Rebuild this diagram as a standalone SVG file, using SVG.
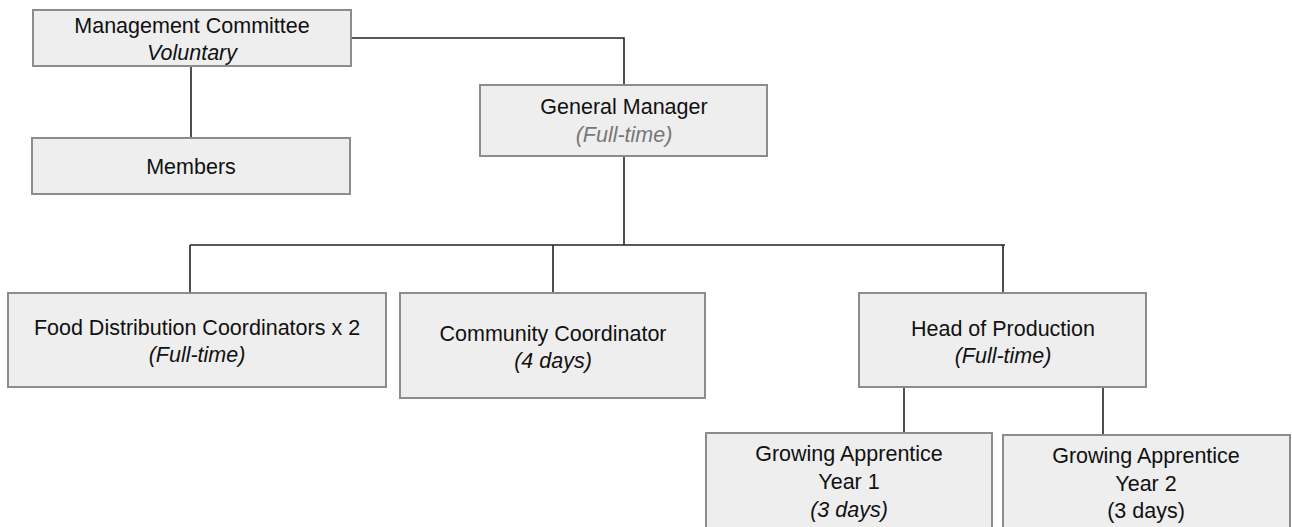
<svg xmlns="http://www.w3.org/2000/svg" width="1292" height="527" viewBox="0 0 1292 527">
<style>
.box{fill:#eeeeee;stroke:#8c8c8c;stroke-width:2}
.t{font-family:"Liberation Sans",Arial,sans-serif;font-size:21.5px;fill:#111;text-anchor:middle}
.i{font-style:italic}
.g{fill:#777}
.c{fill:none;stroke:#222;stroke-width:1.6}
</style>
<rect width="1292" height="527" fill="#fff"/>
<g id="connectors">
<polyline class="c" points="351,38 624,38 624,85"/>
<line class="c" x1="191" y1="66" x2="191" y2="138"/>
<line class="c" x1="624" y1="157" x2="624" y2="245"/>
<line class="c" x1="190" y1="245" x2="1005" y2="245"/>
<line class="c" x1="190" y1="245" x2="190" y2="293"/>
<line class="c" x1="553" y1="245" x2="553" y2="293"/>
<line class="c" x1="1003" y1="245" x2="1003" y2="293"/>
<line class="c" x1="904" y1="388" x2="904" y2="433"/>
<line class="c" x1="1103" y1="388" x2="1103" y2="435"/>
</g>
<g id="management-committee">
<rect class="box" x="33" y="10" width="318" height="56"/>
<text class="t" x="192" y="33">Management Committee</text>
<text class="t i" x="192" y="60">Voluntary</text>
</g>
<g id="members">
<rect class="box" x="32" y="138" width="318" height="56"/>
<text class="t" x="191" y="174">Members</text>
</g>
<g id="general-manager">
<rect class="box" x="480" y="85" width="287" height="71"/>
<text class="t" x="624" y="114">General Manager</text>
<text class="t i g" x="624" y="142">(Full-time)</text>
</g>
<g id="food-distribution">
<rect class="box" x="8" y="293" width="378" height="94"/>
<text class="t" x="197" y="335">Food Distribution Coordinators x 2</text>
<text class="t i" x="197" y="362">(Full-time)</text>
</g>
<g id="community-coordinator">
<rect class="box" x="400" y="293" width="305" height="105"/>
<text class="t" x="553" y="341">Community Coordinator</text>
<text class="t i" x="553" y="368">(4 days)</text>
</g>
<g id="head-of-production">
<rect class="box" x="859" y="293" width="287" height="94"/>
<text class="t" x="1003" y="336">Head of Production</text>
<text class="t i" x="1003" y="363">(Full-time)</text>
</g>
<g id="growing-apprentice-1">
<rect class="box" x="706" y="433" width="286" height="110"/>
<text class="t" x="849" y="461">Growing Apprentice</text>
<text class="t" x="849" y="489">Year 1</text>
<text class="t i" x="849" y="517">(3 days)</text>
</g>
<g id="growing-apprentice-2">
<rect class="box" x="1003" y="435" width="287" height="110"/>
<text class="t" x="1146" y="463">Growing Apprentice</text>
<text class="t" x="1146" y="491">Year 2</text>
<text class="t" x="1146" y="518">(3 days)</text>
</g>
</svg>
